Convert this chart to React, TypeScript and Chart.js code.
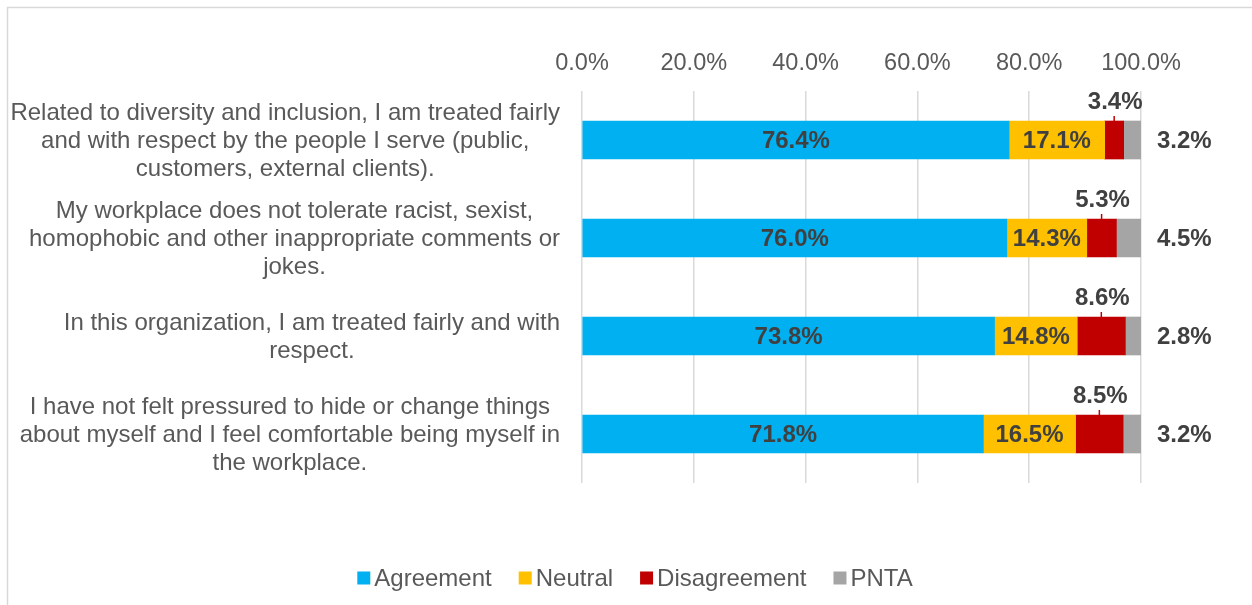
import React, { useEffect, useRef } from 'react';
import { Chart, registerables } from 'chart.js';

Chart.register(...registerables);

const categories: string[][] = [
  ['Related to diversity and inclusion, I am treated fairly', 'and with respect by the people I serve (public,', 'customers, external clients).'],
  ['My workplace does not tolerate racist, sexist,', 'homophobic and other inappropriate comments or', 'jokes.'],
  ['In this organization, I am treated fairly and with', 'respect.'],
  ['I have not felt pressured to hide or change things', 'about myself and I feel comfortable being myself in', 'the workplace.'],
];
const seriesNames = ['Agreement', 'Neutral', 'Disagreement', 'PNTA'];
const agreement = [76.4, 76.0, 73.8, 71.8];
const neutral = [17.1, 14.3, 14.8, 16.5];
const disagreement = [3.4, 5.3, 8.6, 8.5];
const pnta = [3.2, 4.5, 2.8, 3.2];
const seriesColors = ['#00B0F0', '#FFC000', '#C00000', '#A5A5A5'];
const axisMin = 0;
const axisMax = 100;
const axisStep = 20;

const FONT = '"Liberation Sans", Arial, Helvetica, sans-serif';
const TEXT = '#595959';
const LABEL = '#404040';

const fmt = (v: number) => v.toFixed(1) + '%';

const overlay = {
  id: 'overlay',
  beforeDraw(chart: any) {
    const ctx = chart.ctx;
    ctx.save();
    ctx.strokeStyle = '#D9D9D9';
    ctx.lineWidth = 1.5;
    ctx.strokeRect(7.5, 7.5, 1400, 800);
    ctx.restore();
  },
  afterDatasetsDraw(chart: any) {
    const ctx = chart.ctx;
    ctx.save();
    ctx.font = `bold 24px ${FONT}`;
    ctx.fillStyle = LABEL;
    ctx.textBaseline = 'middle';
    chart.data.datasets.forEach((ds: any, di: number) => {
      const meta = chart.getDatasetMeta(di);
      meta.data.forEach((el: any, i: number) => {
        const p = el.getProps(['x', 'base', 'y', 'height'], true);
        const v = ds.data[i];
        const cx = (p.x + p.base) / 2;
        const top = p.y - p.height / 2;
        if (di <= 1) {
          ctx.textAlign = 'center';
          ctx.fillStyle = LABEL;
          ctx.fillText(fmt(v), cx, p.y + 1);
        } else if (di === 2) {
          ctx.strokeStyle = seriesColors[2];
          ctx.lineWidth = 1.5;
          ctx.beginPath();
          ctx.moveTo(cx, top - 5);
          ctx.lineTo(cx, top + 2);
          ctx.stroke();
          ctx.textAlign = 'center';
          ctx.fillStyle = LABEL;
          ctx.fillText(fmt(v), cx + 1, top - 18.5);
        } else {
          const end = Math.min(p.x, chart.chartArea.right);
          ctx.textAlign = 'left';
          ctx.fillStyle = LABEL;
          ctx.fillText(fmt(v), end + 16, p.y + 1);
        }
      });
    });
    ctx.restore();
  },
  afterDraw(chart: any) {
    const ctx = chart.ctx;
    const yScale = chart.scales.y;
    ctx.save();
    // category labels
    ctx.font = `24px ${FONT}`;
    ctx.fillStyle = TEXT;
    ctx.textBaseline = 'middle';
    ctx.textAlign = 'center';
    const lineH = 28;
    const rightEdge = chart.chartArea.left - 22;
    categories.forEach((lines, i) => {
      const y = yScale.getPixelForValue(i);
      const widest = Math.max(...lines.map((l) => ctx.measureText(l).width));
      const cx = rightEdge - widest / 2;
      const y0 = y - ((lines.length - 1) * lineH) / 2;
      lines.forEach((l, k) => ctx.fillText(l, cx, y0 + k * lineH + 1.5));
    });
    // legend
    const box = 13;
    const gap = 4;
    const itemGap = 27;
    const widths = seriesNames.map((n) => ctx.measureText(n).width);
    const total = widths.reduce((a, w) => a + box + gap + w, 0) + itemGap * (seriesNames.length - 1);
    let x = 635 - total / 2;
    const ly = 578;
    ctx.textAlign = 'left';
    chart.data.datasets.forEach((ds: any, i: number) => {
      ctx.fillStyle = ds.backgroundColor;
      ctx.fillRect(x, ly - box / 2, box, box);
      x += box + gap;
      ctx.fillStyle = TEXT;
      ctx.fillText(ds.label, x, ly + 1);
      x += widths[i] + itemGap;
    });
    ctx.restore();
  },
};

export default function App() {
  const ref = useRef<HTMLCanvasElement | null>(null);
  useEffect(() => {
    if (!ref.current) return;
    const series = [agreement, neutral, disagreement, pnta];
    const chart = new Chart(ref.current, {
      type: 'bar',
      data: {
        labels: categories.map((c) => c.join(' ')),
        datasets: series.map((d, i) => ({
          label: seriesNames[i],
          data: d,
          backgroundColor: seriesColors[i],
          borderWidth: 0,
          barThickness: 38,
        })),
      },
      options: {
        indexAxis: 'y',
        responsive: false,
        animation: false,
        layout: { padding: { left: 582, right: 111, top: 0, bottom: 122 } },
        plugins: { legend: { display: false }, tooltip: { enabled: false } },
        scales: {
          x: {
            position: 'top',
            stacked: true,
            min: axisMin,
            max: axisMax,
            ticks: {
              stepSize: axisStep,
              padding: 13,
              color: TEXT,
              font: { family: FONT, size: 23.5 },
              callback: (v: any) => Number(v).toFixed(1) + '%',
            },
            grid: { color: '#D9D9D9', lineWidth: 1.5, drawTicks: false },
            border: { display: false },
            afterFit: (s: any) => {
              s.height = 91;
            },
          },
          y: {
            stacked: true,
            display: false,
          },
        },
      },
      plugins: [overlay],
    });
    return () => chart.destroy();
  }, []);
  return (
    <div style={{ position: 'absolute', left: 0, top: 0, width: 1252, height: 605, background: '#fff' }}>
      <canvas ref={ref} width={1252} height={605} style={{ display: 'block' }} />
    </div>
  );
}
